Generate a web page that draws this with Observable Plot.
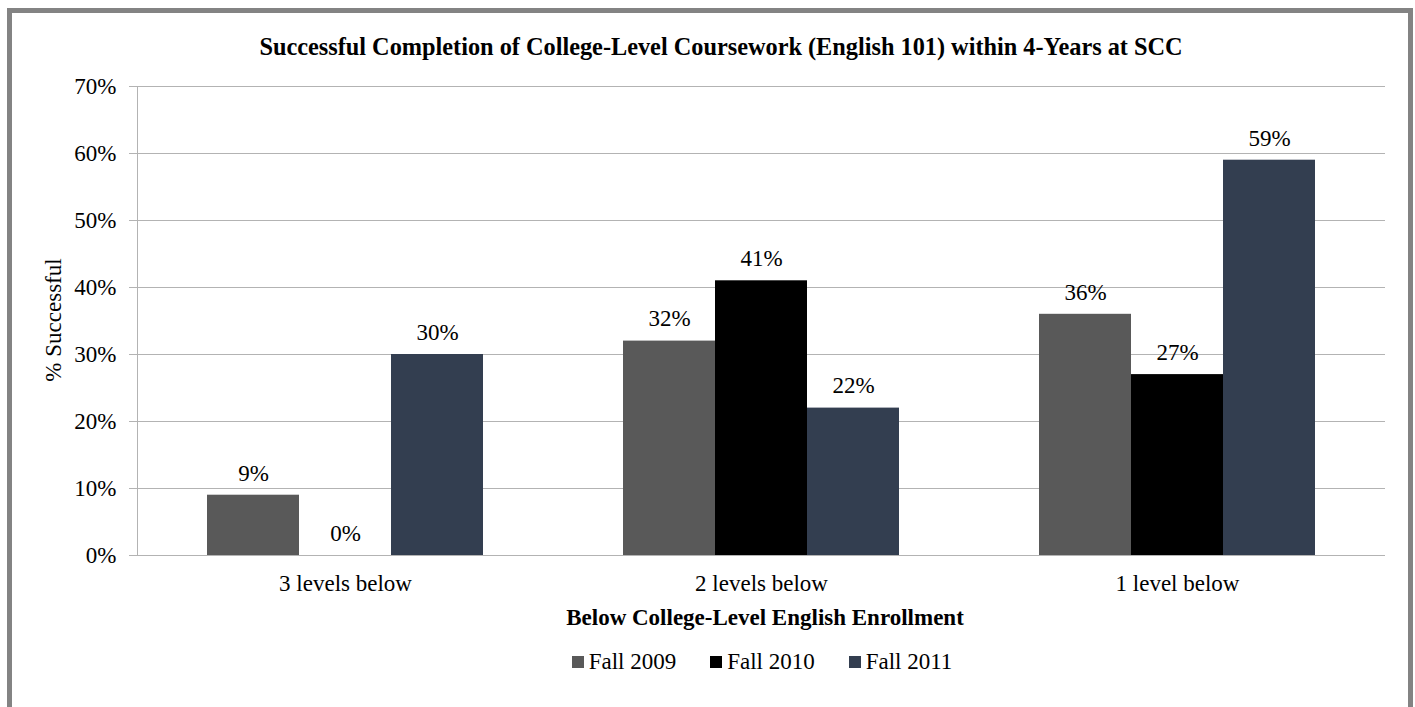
<!DOCTYPE html>
<html><head><meta charset="utf-8">
<script src="https://cdn.jsdelivr.net/npm/d3@7"></script>
<script src="https://cdn.jsdelivr.net/npm/@observablehq/plot@0.6"></script>
<style>
html,body{margin:0;padding:0;background:#fff;overflow:hidden;width:1415px;height:707px;}
body{font-family:"Liberation Serif","Times New Roman",serif;color:#000;position:relative;}
#frame{position:absolute;left:7px;top:8px;width:1406px;height:760px;border:5px solid #838383;box-sizing:border-box;}
#chart{position:absolute;left:0;top:0;}
#chart svg, #chart svg text{font-family:"Liberation Serif","Times New Roman",serif !important;}
#title{position:absolute;left:0;width:1442px;top:33px;text-align:center;font-weight:bold;font-size:24.3px;line-height:28px;white-space:nowrap;}
#ylabel{position:absolute;left:54px;top:320px;transform:translate(-50%,-50%) rotate(-90deg);font-size:23px;white-space:nowrap;}
#xlabel{position:absolute;left:0;width:1530px;top:604px;text-align:center;font-weight:bold;font-size:23px;line-height:28px;white-space:nowrap;}
#legend{position:absolute;left:0;width:1524px;top:649px;display:flex;justify-content:center;gap:34px;font-size:23px;line-height:26px;}
#legend .item{display:flex;align-items:center;gap:5px;}
#legend .sw{width:12px;height:12px;display:inline-block;}
</style></head>
<body>
<div id="frame"></div>
<div id="chart"></div>
<div id="title">Successful Completion of College-Level Coursework (English 101) within 4-Years at SCC</div>
<div id="ylabel">% Successful</div>
<div id="xlabel">Below College-Level English Enrollment</div>
<div id="legend"></div>
<script>
const categories = ["3 levels below", "2 levels below", "1 level below"];
const series = ["Fall 2009", "Fall 2010", "Fall 2011"];
const fall2009 = [9, 32, 36];
const fall2010 = [0, 41, 27];
const fall2011 = [30, 22, 59];
const yTicks = [0, 10, 20, 30, 40, 50, 60, 70];
const colors = ["#595959", "#000000", "#333e50"];

const valuesBySeries = [fall2009, fall2010, fall2011];
const data = [];
categories.forEach((c, i) => series.forEach((s, j) => data.push({cat: c, series: s, value: valuesBySeries[j][i]})));

const grid = "#b3b3b3";
const chart = Plot.plot({
  width: 1415, height: 600,
  marginLeft: 137, marginRight: 30, marginTop: 86, marginBottom: 45,
  style: {fontFamily: "Liberation Serif, serif", fontSize: "23px", color: "#000", background: "transparent"},
  fx: {domain: categories, padding: 0, label: null, axis: null},
  x: {domain: series, paddingInner: 0, paddingOuter: 0.75, axis: null},
  y: {domain: [0, 70], label: null, axis: null},
  color: {domain: series, range: colors},
  marks: [
    Plot.gridY(yTicks, {stroke: grid, strokeOpacity: 1}),
    Plot.axisY(yTicks, {tickSize: 8, tickPadding: 13, stroke: grid, fill: "#000", tickFormat: d => d + "%", label: null}),
    Plot.barY(data, {fx: "cat", x: "series", y: "value", fill: "series"}),
    Plot.text(data, {fx: "cat", x: "series", y: "value", text: d => d.value + "%", dy: -22, fill: "#000"}),
    Plot.axisFx({anchor: "bottom", tickSize: 0, tickPadding: 19, label: null, fill: "#000"}),
    Plot.ruleY([0], {stroke: grid}),
    Plot.frame({anchor: "left", facetAnchor: "left", stroke: grid})
  ]
});
document.getElementById("chart").appendChild(chart);

const legend = document.getElementById("legend");
series.forEach((s, j) => {
  const item = document.createElement("div");
  item.className = "item";
  const sw = document.createElement("span");
  sw.className = "sw";
  sw.style.background = colors[j];
  const t = document.createElement("span");
  t.textContent = s;
  item.appendChild(sw); item.appendChild(t);
  legend.appendChild(item);
});
</script>
</body></html>
